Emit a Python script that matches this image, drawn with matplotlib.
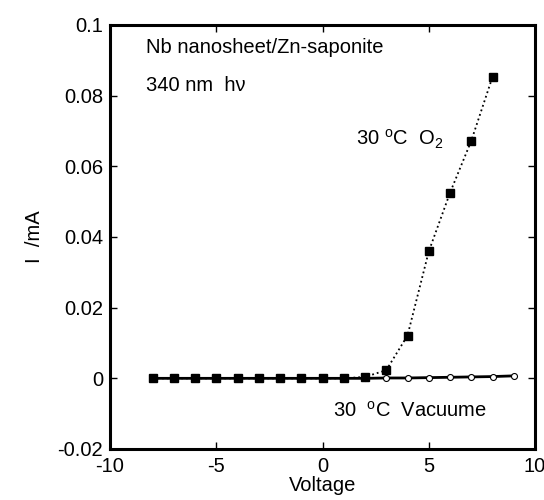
import numpy as np
import matplotlib
matplotlib.use("Agg")
import matplotlib.pyplot as plt
from matplotlib.ticker import FuncFormatter

plt.rcParams['font.family'] = ['Liberation Sans', 'DejaVu Sans']
plt.rcParams['mathtext.fontset'] = 'custom'
plt.rcParams['mathtext.rm'] = 'Liberation Sans'
plt.rcParams['mathtext.it'] = 'Liberation Sans'
plt.rcParams['axes.unicode_minus'] = False

# I-V data, 30 C
volt_vac = [-8, -7, -6, -5, -4, -3, -2, -1, 0, 1, 2, 3, 4, 5, 6, 7, 8, 9]
cur_vac = [0, 0, 0, 0, 0, 0, 0, 0, 0, 0, 0, 0.0001, 0.0001, 0.0002, 0.0003, 0.0004, 0.0005, 0.0007]

volt_o2 = [-8, -7, -6, -5, -4, -3, -2, -1, 0, 1, 2, 3, 4, 5, 6, 7, 8]
cur_o2 = [0, 0, 0, 0, 0, 0, 0, 0, 0, 0, 0.0004, 0.0023, 0.0121, 0.0359, 0.0525, 0.0672, 0.0853]

fs = 14.5

fig = plt.figure(figsize=(5.44, 5.0), dpi=100)
ax = fig.add_axes([110/544, 51/500, 425/544, 424/500])

ax.plot(volt_vac, cur_vac, '-', color='black', lw=2.0, marker='o', ms=4.3,
        mfc='white', mec='black', mew=0.8)
ax.plot(volt_o2, cur_o2, ':', color='black', lw=1.3, marker='s', ms=5.5,
        mfc='black', mec='black')

ax.set_xlim(-10, 10)
ax.set_ylim(-0.02, 0.1)
ax.set_xticks([-10, -5, 0, 5, 10])
ax.set_yticks([-0.02, 0, 0.02, 0.04, 0.06, 0.08, 0.1])
ax.yaxis.set_major_formatter(FuncFormatter(lambda v, p: '%g' % round(v, 4)))
ax.tick_params(direction='in', top=True, right=True, length=5, width=1,
               labelsize=fs, pad=5)
ax.tick_params(axis='x', pad=6)
for sp in ax.spines.values():
    sp.set_linewidth(2.2)

ax.set_xlabel('Voltage', fontsize=fs, labelpad=0)
ax.set_ylabel('I  /mA', fontsize=fs, labelpad=10)

ax.text(-8.3, 0.0935, 'Nb nanosheet/Zn-saponite', fontsize=fs, va='center')
ax.text(-8.3, 0.083, '340 nm  hν', fontsize=fs, va='center')
ax.text(1.6, 0.0675, '30 $^{\\rm o}$C  O$_2$', fontsize=fs, va='center')
ax.text(0.5, -0.0092, '30  $^{\\rm o}$C  Vacuume', fontsize=fs, va='center')

fig.savefig('out.png', dpi=100)
